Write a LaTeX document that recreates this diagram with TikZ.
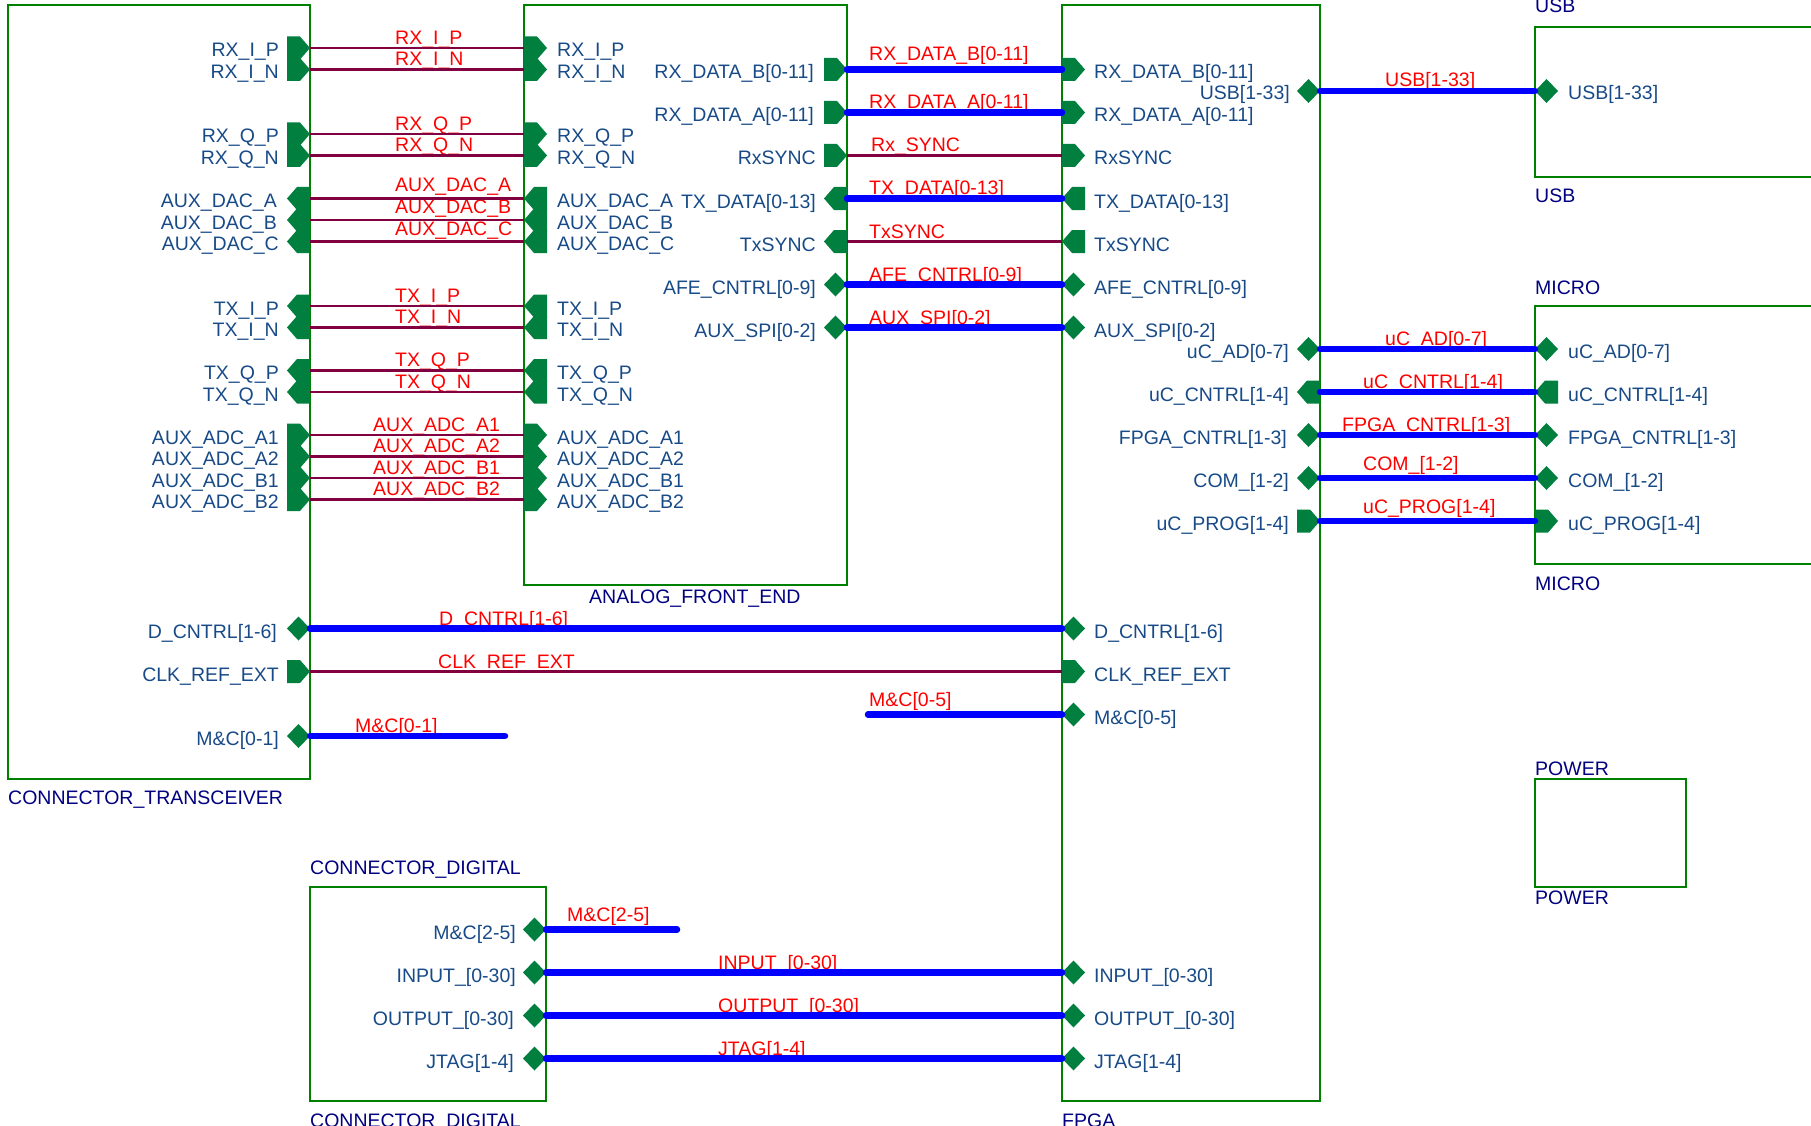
\documentclass[tikz,border=0pt]{standalone}
\usepackage{fontspec}
\setmainfont{Liberation Sans}
\usepackage{xcolor}
\usetikzlibrary{shapes.geometric,shapes.symbols}
\definecolor{blockc}{HTML}{008000}
\definecolor{pinc}{HTML}{007F3F}
\definecolor{wirec}{HTML}{800040}
\definecolor{busc}{HTML}{0000FF}
\definecolor{pintextc}{HTML}{174A87}
\definecolor{blocktextc}{HTML}{000080}
\definecolor{nettextc}{HTML}{FF0000}
\tikzset{
  block/.style={draw=blockc, line width=2.5pt, anchor=north west, inner sep=0pt, outer sep=0pt},
  blockname/.style={text=blocktextc, anchor=base west, inner sep=0pt, font=\fontsize{19.5}{21}\selectfont},
  pinright/.style={signal, signal to=east, signal pointer angle=98, fill=pinc, anchor=east, inner sep=0pt, outer sep=0pt, minimum width=23pt, minimum height=23pt},
  pinleft/.style={signal, signal to=west, signal pointer angle=98, fill=pinc, anchor=east, inner sep=0pt, outer sep=0pt, minimum width=23pt, minimum height=23pt},
  pinboth/.style={diamond, fill=pinc, anchor=east, inner sep=0pt, outer sep=0pt, minimum width=23pt, minimum height=24pt},
  textl/.style={text=pintextc, anchor=base east, inner sep=0pt, font=\fontsize{19.5}{21}\selectfont},
  textr/.style={text=pintextc, anchor=base west, inner sep=0pt, font=\fontsize{19.5}{21}\selectfont},
  nettext/.style={text=nettextc, anchor=base west, inner sep=0pt, font=\fontsize{19.5}{21}\selectfont},
  wire/.style={draw=wirec, line width=2.8pt},
  bus/.style={draw=busc, line width=6.5pt, line cap=round},
}
\begin{document}
\begin{tikzpicture}[x=1pt,y=-1pt]
\useasboundingbox (0,0) rectangle (1811,1126);
\node[block, minimum width=302pt, minimum height=774pt] (trans) at (8,5) {};
\node[block, minimum width=323pt, minimum height=580pt] (afe) at (524,5) {};
\node[block, minimum width=258pt, minimum height=1096pt] (fpga) at (1062,5) {};
\node[block, minimum width=300pt, minimum height=150pt] (usb) at (1535,27) {};
\node[block, minimum width=300pt, minimum height=258pt] (micro) at (1535,306) {};
\node[block, minimum width=151pt, minimum height=108pt] (power) at (1535,779) {};
\node[block, minimum width=236pt, minimum height=214pt] (digital) at (310,887) {};
\node[blockname] (transname) at (8,804) {CONNECTOR\_TRANSCEIVER};
\node[blockname] (afename) at (589,603) {ANALOG\_FRONT\_END};
\node[blockname] (fpganame) at (1062,1127) {FPGA};
\node[blockname] (usbtop) at (1535,13) {USB};
\node[blockname] (usbbottom) at (1535,202) {USB};
\node[blockname] (microtop) at (1535,294) {MICRO};
\node[blockname] (microbottom) at (1535,590) {MICRO};
\node[blockname] (powertop) at (1535,775) {POWER};
\node[blockname] (powerbottom) at (1535,904) {POWER};
\node[blockname] (digitaltop) at (310,874) {CONNECTOR\_DIGITAL};
\node[blockname] (digitalbottom) at (310,1127) {CONNECTOR\_DIGITAL};

\node[pinright] (trxip) at (310,48) {};
\node[pinright] (arxip) at (547,48) {};
\node[textl] (ltrxip) at (279,57) {RX\_I\_P};
\node[textr] (larxip) at (557,57) {RX\_I\_P};
\node[nettext] (nrxip) at (395,44.5) {RX\_I\_P};
\node[pinright] (trxin) at (310,69.5) {};
\node[pinright] (arxin) at (547,69.5) {};
\node[textl] (ltrxin) at (279,78.5) {RX\_I\_N};
\node[textr] (larxin) at (557,78.5) {RX\_I\_N};
\node[nettext] (nrxin) at (395,66) {RX\_I\_N};
\node[pinright] (trxqp) at (310,134) {};
\node[pinright] (arxqp) at (547,134) {};
\node[textl] (ltrxqp) at (279,143) {RX\_Q\_P};
\node[textr] (larxqp) at (557,143) {RX\_Q\_P};
\node[nettext] (nrxqp) at (395,130.5) {RX\_Q\_P};
\node[pinright] (trxqn) at (310,155.5) {};
\node[pinright] (arxqn) at (547,155.5) {};
\node[textl] (ltrxqn) at (279,164.5) {RX\_Q\_N};
\node[textr] (larxqn) at (557,164.5) {RX\_Q\_N};
\node[nettext] (nrxqn) at (395,152) {RX\_Q\_N};
\node[pinleft] (tdaca) at (310,198.5) {};
\node[pinleft] (adaca) at (547,198.5) {};
\node[textl] (ltdaca) at (277,207.5) {AUX\_DAC\_A};
\node[textr] (ladaca) at (557,207.5) {AUX\_DAC\_A};
\node[nettext] (ndaca) at (395,192) {AUX\_DAC\_A};
\node[pinleft] (tdacb) at (310,220) {};
\node[pinleft] (adacb) at (547,220) {};
\node[textl] (ltdacb) at (277,229) {AUX\_DAC\_B};
\node[textr] (ladacb) at (557,229) {AUX\_DAC\_B};
\node[nettext] (ndacb) at (395,213.5) {AUX\_DAC\_B};
\node[pinleft] (tdacc) at (310,241.5) {};
\node[pinleft] (adacc) at (547,241.5) {};
\node[textl] (ltdacc) at (279,250.5) {AUX\_DAC\_C};
\node[textr] (ladacc) at (557,250.5) {AUX\_DAC\_C};
\node[nettext] (ndacc) at (395,235.5) {AUX\_DAC\_C};
\node[pinleft] (ttxip) at (310,306) {};
\node[pinleft] (atxip) at (547,306) {};
\node[textl] (lttxip) at (279,315) {TX\_I\_P};
\node[textr] (latxip) at (557,315) {TX\_I\_P};
\node[nettext] (ntxip) at (395,302) {TX\_I\_P};
\node[pinleft] (ttxin) at (310,327.5) {};
\node[pinleft] (atxin) at (547,327.5) {};
\node[textl] (lttxin) at (279,336.5) {TX\_I\_N};
\node[textr] (latxin) at (557,336.5) {TX\_I\_N};
\node[nettext] (ntxin) at (395,323.5) {TX\_I\_N};
\node[pinleft] (ttxqp) at (310,370.5) {};
\node[pinleft] (atxqp) at (547,370.5) {};
\node[textl] (lttxqp) at (279,379.5) {TX\_Q\_P};
\node[textr] (latxqp) at (557,379.5) {TX\_Q\_P};
\node[nettext] (ntxqp) at (395,366.5) {TX\_Q\_P};
\node[pinleft] (ttxqn) at (310,392) {};
\node[pinleft] (atxqn) at (547,392) {};
\node[textl] (lttxqn) at (279,401) {TX\_Q\_N};
\node[textr] (latxqn) at (557,401) {TX\_Q\_N};
\node[nettext] (ntxqn) at (395,388) {TX\_Q\_N};
\node[pinright] (tadca1) at (310,435) {};
\node[pinright] (aadca1) at (547,435) {};
\node[textl] (ltadca1) at (279,444) {AUX\_ADC\_A1};
\node[textr] (laadca1) at (557,444) {AUX\_ADC\_A1};
\node[nettext] (nadca1) at (373,431) {AUX\_ADC\_A1};
\node[pinright] (tadca2) at (310,456.5) {};
\node[pinright] (aadca2) at (547,456.5) {};
\node[textl] (ltadca2) at (279,465.5) {AUX\_ADC\_A2};
\node[textr] (laadca2) at (557,465.5) {AUX\_ADC\_A2};
\node[nettext] (nadca2) at (373,452.5) {AUX\_ADC\_A2};
\node[pinright] (tadcb1) at (310,478) {};
\node[pinright] (aadcb1) at (547,478) {};
\node[textl] (ltadcb1) at (279,487) {AUX\_ADC\_B1};
\node[textr] (laadcb1) at (557,487) {AUX\_ADC\_B1};
\node[nettext] (nadcb1) at (373,474) {AUX\_ADC\_B1};
\node[pinright] (tadcb2) at (310,499.5) {};
\node[pinright] (aadcb2) at (547,499.5) {};
\node[textl] (ltadcb2) at (279,508.5) {AUX\_ADC\_B2};
\node[textr] (laadcb2) at (557,508.5) {AUX\_ADC\_B2};
\node[nettext] (nadcb2) at (373,495.5) {AUX\_ADC\_B2};

\node[pinright] (ardatab) at (847,69.5) {};
\node[pinright] (frdatab) at (1085,69.5) {};
\node[textl] (lardatab) at (814,79) {RX\_DATA\_B[0-11]};
\node[textr] (lfrdatab) at (1094,79) {RX\_DATA\_B[0-11]};
\node[nettext] (nrdatab) at (869,61) {RX\_DATA\_B[0-11]};
\node[pinright] (ardataa) at (847,112.5) {};
\node[pinright] (frdataa) at (1085,112.5) {};
\node[textl] (lardataa) at (814,122) {RX\_DATA\_A[0-11]};
\node[textr] (lfrdataa) at (1094,122) {RX\_DATA\_A[0-11]};
\node[nettext] (nrdataa) at (869,109) {RX\_DATA\_A[0-11]};
\node[pinright] (arsync) at (847,155.5) {};
\node[pinright] (frsync) at (1085,155.5) {};
\node[textl] (larsync) at (816,165) {RxSYNC};
\node[textr] (lfrsync) at (1094,165) {RxSYNC};
\node[nettext] (nrsync) at (871,152) {Rx\_SYNC};
\node[pinleft] (atdata) at (847,198.5) {};
\node[pinleft] (ftdata) at (1085,198.5) {};
\node[textl] (latdata) at (816,208) {TX\_DATA[0-13]};
\node[textr] (lftdata) at (1094,208) {TX\_DATA[0-13]};
\node[nettext] (ntdata) at (869,195) {TX\_DATA[0-13]};
\node[pinleft] (atsync) at (847,241.5) {};
\node[pinleft] (ftsync) at (1085,241.5) {};
\node[textl] (latsync) at (816,251) {TxSYNC};
\node[textr] (lftsync) at (1094,251) {TxSYNC};
\node[nettext] (ntsync) at (869,238) {TxSYNC};
\node[pinboth] (aafe) at (847,284.5) {};
\node[pinboth] (fafe) at (1085,284.5) {};
\node[textl] (laafe) at (816,294) {AFE\_CNTRL[0-9]};
\node[textr] (lfafe) at (1094,294) {AFE\_CNTRL[0-9]};
\node[nettext] (nafe) at (869,281) {AFE\_CNTRL[0-9]};
\node[pinboth] (aspi) at (847,327.5) {};
\node[pinboth] (fspi) at (1085,327.5) {};
\node[textl] (laspi) at (816,337) {AUX\_SPI[0-2]};
\node[textr] (lfspi) at (1094,337) {AUX\_SPI[0-2]};
\node[nettext] (nspi) at (869,324) {AUX\_SPI[0-2]};

\node[pinboth] (fusb) at (1320,91) {};
\node[pinboth] (uusb) at (1558,91) {};
\node[textl] (lfusb) at (1290,100) {USB[1-33]};
\node[textr] (luusb) at (1568,100) {USB[1-33]};
\node[nettext] (nusb) at (1385,87) {USB[1-33]};
\node[pinboth] (fucad) at (1320,349) {};
\node[pinboth] (mucad) at (1558,349) {};
\node[textl] (lfucad) at (1289,358.5) {uC\_AD[0-7]};
\node[textr] (lmucad) at (1568,358.5) {uC\_AD[0-7]};
\node[nettext] (nucad) at (1385,345) {uC\_AD[0-7]};
\node[pinleft] (fuccn) at (1320,392) {};
\node[pinleft] (muccn) at (1558,392) {};
\node[textl] (lfuccn) at (1289,401.5) {uC\_CNTRL[1-4]};
\node[textr] (lmuccn) at (1568,401.5) {uC\_CNTRL[1-4]};
\node[nettext] (nuccn) at (1363,388) {uC\_CNTRL[1-4]};
\node[pinboth] (ffpga) at (1320,435) {};
\node[pinboth] (mfpga) at (1558,435) {};
\node[textl] (lffpga) at (1287,444.5) {FPGA\_CNTRL[1-3]};
\node[textr] (lmfpga) at (1568,444.5) {FPGA\_CNTRL[1-3]};
\node[nettext] (nfpga) at (1342,431) {FPGA\_CNTRL[1-3]};
\node[pinboth] (fcom) at (1320,478) {};
\node[pinboth] (mcom) at (1558,478) {};
\node[textl] (lfcom) at (1289,487.5) {COM\_[1-2]};
\node[textr] (lmcom) at (1568,487.5) {COM\_[1-2]};
\node[nettext] (ncom) at (1363,470.5) {COM\_[1-2]};
\node[pinright] (fucpg) at (1320,521) {};
\node[pinright] (mucpg) at (1558,521) {};
\node[textl] (lfucpg) at (1289,530.5) {uC\_PROG[1-4]};
\node[textr] (lmucpg) at (1568,530.5) {uC\_PROG[1-4]};
\node[nettext] (nucpg) at (1363,513.5) {uC\_PROG[1-4]};

\node[pinboth] (tdcn) at (310,628.5) {};
\node[pinboth] (fdcn) at (1085,628.5) {};
\node[textl] (ltdcn) at (277,638) {D\_CNTRL[1-6]};
\node[textr] (lfdcn) at (1094,638) {D\_CNTRL[1-6]};
\node[nettext] (ndcn) at (439,625) {D\_CNTRL[1-6]};
\node[pinright] (tclk) at (310,671.5) {};
\node[pinright] (fclk) at (1085,671.5) {};
\node[textl] (ltclk) at (279,681) {CLK\_REF\_EXT};
\node[textr] (lfclk) at (1094,681) {CLK\_REF\_EXT};
\node[nettext] (nclk) at (438,668.5) {CLK\_REF\_EXT};
\node[pinboth] (tmc) at (310,736) {};
\node[textl] (ltmc) at (279,745.5) {M\&C[0-1]};
\node[nettext] (ntmc) at (355,732.5) {M\&C[0-1]};
\coordinate (tmcend) at (505,736);
\node[pinboth] (fmc) at (1085,714.5) {};
\node[textr] (lfmc) at (1094,724) {M\&C[0-5]};
\node[nettext] (nfmc) at (869,706.5) {M\&C[0-5]};
\coordinate (fmcend) at (868,714.5);

\node[pinboth] (dmc) at (546,929.5) {};
\node[textl] (ldmc) at (516,939) {M\&C[2-5]};
\node[nettext] (ndmc) at (567,921.5) {M\&C[2-5]};
\coordinate (dmcend) at (677,929.5);
\node[pinboth] (dinp) at (546,972.5) {};
\node[pinboth] (finp) at (1085,972.5) {};
\node[textl] (ldinp) at (516,982) {INPUT\_[0-30]};
\node[textr] (lfinp) at (1094,982) {INPUT\_[0-30]};
\node[nettext] (ninp) at (718,969) {INPUT\_[0-30]};
\node[pinboth] (dout) at (546,1015.5) {};
\node[pinboth] (fout) at (1085,1015.5) {};
\node[textl] (ldout) at (514,1025) {OUTPUT\_[0-30]};
\node[textr] (lfout) at (1094,1025) {OUTPUT\_[0-30]};
\node[nettext] (nout) at (718,1012) {OUTPUT\_[0-30]};
\node[pinboth] (djtag) at (546,1058.5) {};
\node[pinboth] (fjtag) at (1085,1058.5) {};
\node[textl] (ldjtag) at (514,1068) {JTAG[1-4]};
\node[textr] (lfjtag) at (1094,1068) {JTAG[1-4]};
\node[nettext] (njtag) at (718,1055) {JTAG[1-4]};

\draw[wire] (trxip.east) -- (arxip.west);
\draw[wire] (trxin.east) -- (arxin.west);
\draw[wire] (trxqp.east) -- (arxqp.west);
\draw[wire] (trxqn.east) -- (arxqn.west);
\draw[wire] (tdaca.east) -- (adaca.west);
\draw[wire] (tdacb.east) -- (adacb.west);
\draw[wire] (tdacc.east) -- (adacc.west);
\draw[wire] (ttxip.east) -- (atxip.west);
\draw[wire] (ttxin.east) -- (atxin.west);
\draw[wire] (ttxqp.east) -- (atxqp.west);
\draw[wire] (ttxqn.east) -- (atxqn.west);
\draw[wire] (tadca1.east) -- (aadca1.west);
\draw[wire] (tadca2.east) -- (aadca2.west);
\draw[wire] (tadcb1.east) -- (aadcb1.west);
\draw[wire] (tadcb2.east) -- (aadcb2.west);
\draw[wire] (arsync.east) -- (frsync.west);
\draw[wire] (atsync.east) -- (ftsync.west);
\draw[wire] (tclk.east) -- (fclk.west);
\draw[bus] (ardatab.east) -- (frdatab.west);
\draw[bus] (ardataa.east) -- (frdataa.west);
\draw[bus] (atdata.east) -- (ftdata.west);
\draw[bus] (aafe.east) -- (fafe.west);
\draw[bus] (aspi.east) -- (fspi.west);
\draw[bus] (fusb.east) -- (uusb.west);
\draw[bus] (fucad.east) -- (mucad.west);
\draw[bus] (fuccn.east) -- (muccn.west);
\draw[bus] (ffpga.east) -- (mfpga.west);
\draw[bus] (fcom.east) -- (mcom.west);
\draw[bus] (fucpg.east) -- (mucpg.west);
\draw[bus] (tdcn.east) -- (fdcn.west);
\draw[bus] (tmc.east) -- (tmcend);
\draw[bus] (fmcend) -- (fmc.west);
\draw[bus] (dmc.east) -- (dmcend);
\draw[bus] (dinp.east) -- (finp.west);
\draw[bus] (dout.east) -- (fout.west);
\draw[bus] (djtag.east) -- (fjtag.west);
\end{tikzpicture}
\end{document}
